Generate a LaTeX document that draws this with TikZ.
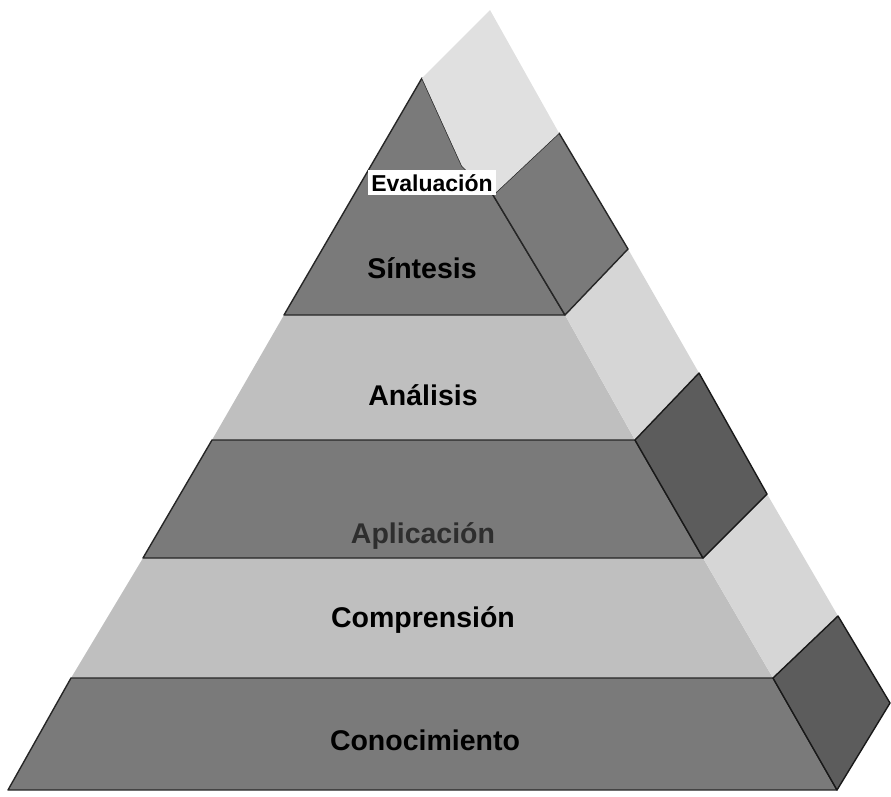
\documentclass[tikz,border=0pt]{standalone}
\usepackage{fontspec}
\setmainfont{Liberation Sans}

\begin{document}
\begin{tikzpicture}[x=1pt,y=-1pt,
    every node/.style={font=\fontsize{28.5}{30}\selectfont\bfseries,inner sep=0pt,anchor=base},
    lightface/.style={fill=black!25,line join=round},
    lightside/.style={fill=black!16,line join=round},
    darkface/.style={fill=black!52,draw=black!85,line width=1.4pt,line join=round},
    darkside/.style={fill=black!64,draw=black!90,line width=1.4pt,line join=round}]

    \useasboundingbox (0,0) rectangle (891,796);

    % Light layers: Analisis, Comprension
    \path[lightface] (284,315) -- (212,440) -- (635,440) -- (565,315) -- cycle;
    \path[lightside] (565,315) -- (635,440) -- (699,373) -- (628,249) -- cycle;
    \path[lightface] (143,558) -- (71,678) -- (773,678) -- (703,558) -- cycle;
    \path[lightside] (703,558) -- (773,678) -- (838,616) -- (767,494) -- cycle;

    % Dark layers: Sintesis, Aplicacion, Conocimiento
    \path[darkface] (422,78) -- (284,315) -- (565,315) -- (493,195) -- (462,166) -- cycle;
    \path[darkface] (493,195) -- (565,315) -- (628,249) -- (559,133) -- cycle;
    \path[darkface] (212,440) -- (143,558) -- (703,558) -- (635,440) -- cycle;
    \path[darkside] (635,440) -- (703,558) -- (767,494) -- (699,373) -- cycle;
    \path[darkface] (71,678) -- (8,790) -- (837,790) -- (773,678) -- cycle;
    \path[darkside] (773,678) -- (837,790) -- (890,703) -- (838,616) -- cycle;

    % Top cap
    \path[fill=black!12,line join=round] (490,10) -- (559,133) -- (493,195)
        -- (462,166) -- (422,78) -- cycle;

    % Level labels
    \node[fill=white,inner xsep=3pt,inner ysep=4pt,font=\fontsize{23}{25}\selectfont\bfseries] (evaluacion) at (432,191) {Evaluación};
    \node (sintesis)     at (422,278) {Síntesis};
    \node (analisis)     at (423,405) {Análisis};
    \node[text=black!82] (aplicacion) at (423,543) {Aplicación};
    \node (comprension)  at (423,627) {Comprensión};
    \node (conocimiento) at (425,750) {Conocimiento};

\end{tikzpicture}
\end{document}
